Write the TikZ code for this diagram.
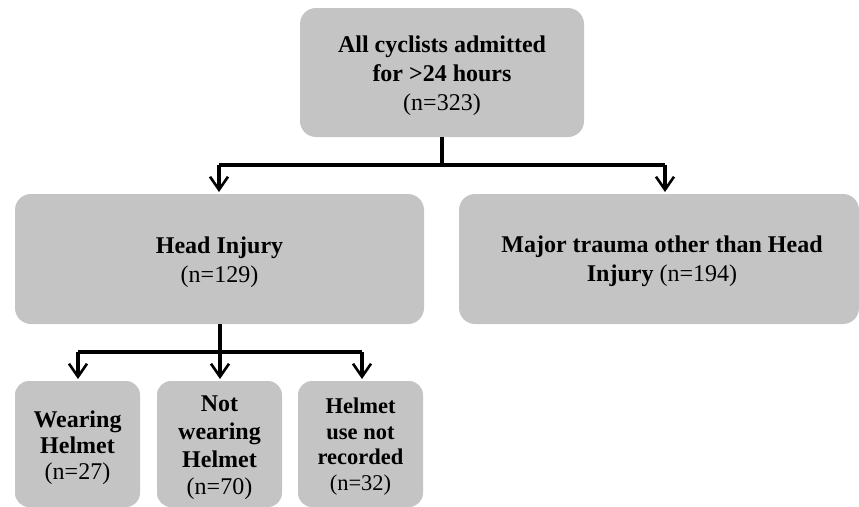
\documentclass[tikz,border=0pt]{standalone}
\usepackage{fontspec}
\setmainfont{Liberation Serif}
\usetikzlibrary{arrows.meta,calc}
\definecolor{boxgray}{HTML}{C4C4C4}
\begin{document}
\begin{tikzpicture}[x=1pt,y=-1pt,
  box/.style={draw=none,fill=boxgray,rounded corners=16pt,inner sep=0pt},
  smallbox/.style={box,rounded corners=14pt,minimum width=125pt,minimum height=126pt},
  txt/.style={align=center,inner sep=0pt,font=\fontsize{24}{29}\selectfont},
  conn/.style={line width=3.2pt,draw=black},
  arr/.style={conn,-{Straight Barb[length=13pt,width=18pt,line width=2.6pt]}}]
\useasboundingbox (0,0) rectangle (859,506);
% boxes
\node[box,minimum width=284pt,minimum height=129pt] (top) at (442,72.5) {};
\node[box,minimum width=409pt,minimum height=130pt] (head) at (219.5,259) {};
\node[box,minimum width=400pt,minimum height=130pt] (other) at (659,259) {};
\node[smallbox] (wear) at (77.5,444) {};
\node[smallbox] (notwear) at (219.5,444) {};
\node[smallbox] (norec) at (360.5,444) {};
% texts
\node[txt,yshift=-3.3pt] (top-t) at (top.center)
  {\textbf{All cyclists admitted}\\\textbf{for >24 hours}\\(n=323)};
\node[txt,yshift=-3.7pt] (head-t) at (head.center)
  {\textbf{Head Injury}\\(n=129)};
\node[txt,yshift=-2.7pt,xshift=3pt] (other-t) at (other.center)
  {\textbf{Major trauma other than Head}\\\textbf{Injury} (n=194)};
\node[txt,font=\fontsize{24}{26}\selectfont,yshift=-4pt] (wear-t) at (wear.center)
  {\textbf{Wearing}\\\textbf{Helmet}\\(n=27)};
\node[txt,font=\fontsize{24}{27.7}\selectfont,yshift=-4pt] (notwear-t) at (notwear.center)
  {\textbf{Not}\\\textbf{wearing}\\\textbf{Helmet}\\(n=70)};
\node[txt,font=\fontsize{22.5}{25.7}\selectfont,yshift=-2.5pt] (norec-t) at (norec.center)
  {\textbf{Helmet}\\\textbf{use not}\\\textbf{recorded}\\(n=32)};
% connectors
\coordinate (j1) at (442,165);
\coordinate (j1l) at (219,165);
\coordinate (j1r) at (665,165);
\coordinate (hl) at (219,192);
\coordinate (hr) at (665,192);
\draw[conn] (top.south) -- (j1);
\draw[conn] (j1l) -- (j1r);
\draw[arr] (j1l) -- (hl);
\draw[arr] (j1r) -- (hr);
\coordinate (j2) at (220,352);
\coordinate (j2l) at (78,352);
\coordinate (j2r) at (362,352);
\coordinate (w1) at (78,379);
\coordinate (w2) at (220,379);
\coordinate (w3) at (362,379);
\draw[conn] (head.south -| j2) -- (j2);
\draw[conn] (j2l) -- (j2r);
\draw[arr] (j2l) -- (w1);
\draw[arr] (j2) -- (w2);
\draw[arr] (j2r) -- (w3);
\end{tikzpicture}
\end{document}
